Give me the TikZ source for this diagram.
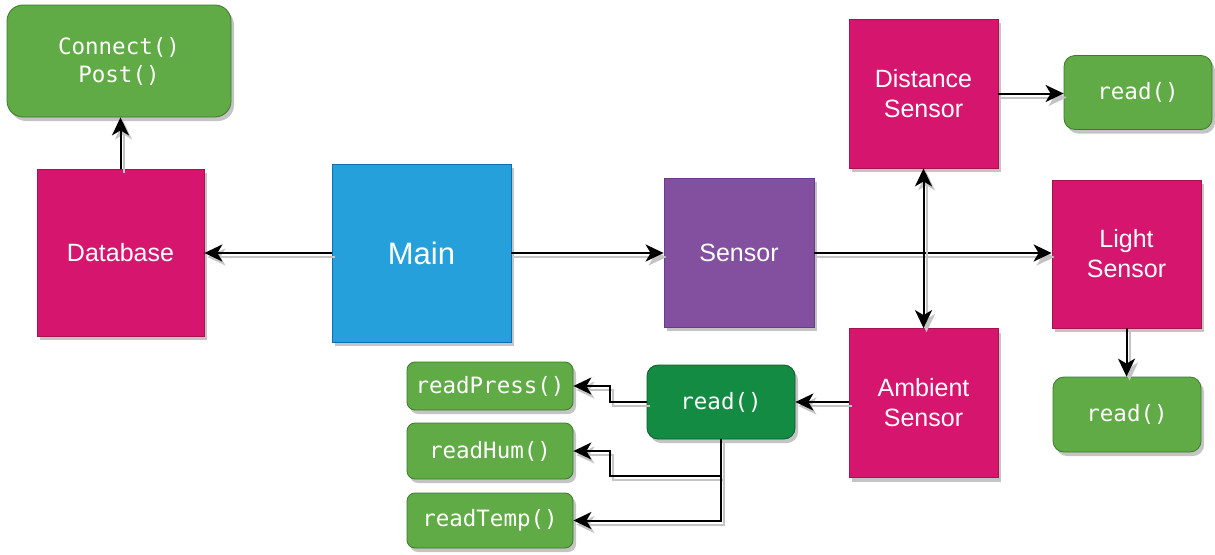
\documentclass[tikz,border=0pt]{standalone}
\usepackage{fontspec}
\setmainfont{Liberation Sans}
\newfontfamily\codefont{DejaVu Sans Mono}
\usetikzlibrary{arrows.meta,shadows}

\definecolor{magentabox}{HTML}{D6156F}
\definecolor{magentaedge}{HTML}{A8124F}
\definecolor{bluebox}{HTML}{26A0DA}
\definecolor{blueedge}{HTML}{0E6FAF}
\definecolor{purplebox}{HTML}{8350A0}
\definecolor{purpleedge}{HTML}{6A3C88}
\definecolor{greenbox}{HTML}{60AB45}
\definecolor{greenedge}{HTML}{3A7A2A}
\definecolor{darkgreenbox}{HTML}{138B42}
\definecolor{darkgreenedge}{HTML}{0B5C2A}
\definecolor{shade}{HTML}{C4C4C4}

\tikzset{
  boxshadow/.style={drop shadow={shadow xshift=3pt,shadow yshift=-4pt,fill=shade,opacity=1}},
  block/.style={draw, line width=0.8pt, inner sep=0pt, align=center, text=white,
    boxshadow, font=\fontsize{25}{30}\selectfont},
  pinkblock/.style={block, fill=magentabox, draw=magentaedge},
  method/.style={block, rounded corners=11pt, fill=greenbox, draw=greenedge,
    font=\codefont\fontsize{22.5}{28}\selectfont},
  wire/.style={line width=2pt, draw=black,
    preaction={draw=shade, line width=2pt, transform canvas={shift={(3pt,-4pt)}}}},
  tipshape/.tip={Stealth[length=18pt,width=17pt,inset=5pt]},
  tip/.style={-tipshape},
  bothtips/.style={tipshape-tipshape},
}

\begin{document}
\begin{tikzpicture}[x=1pt,y=-1pt]
  \useasboundingbox (0,0) rectangle (1215,554);

  % main blocks
  \node[pinkblock, minimum width=167pt, minimum height=167pt] (db) at (120.5,252.5) {Database};
  \node[block, fill=bluebox, draw=blueedge, minimum width=179pt, minimum height=178pt,
        font=\fontsize{31}{36}\selectfont] (main) at (421.5,253) {Main};
  \node[block, fill=purplebox, draw=purpleedge, minimum width=150pt, minimum height=149pt] (sensor) at (739,252.5) {Sensor};
  \node[pinkblock, minimum width=149pt, minimum height=149pt] (dist) at (923.5,93.5) {Distance\\Sensor};
  \node[pinkblock, minimum width=149pt, minimum height=149pt] (amb) at (923.5,403) {Ambient\\Sensor};
  \node[pinkblock, minimum width=149pt, minimum height=148pt] (light) at (1126.5,254) {Light\\Sensor};

  % method boxes
  \node[method, minimum width=224pt, minimum height=112pt, rounded corners=16pt] (api) at (119,61) {Connect()\\Post()};
  \node[method, minimum width=148pt, minimum height=74pt] (rdist) at (1138,92.5) {read()};
  \node[method, minimum width=148pt, minimum height=75pt] (rlight) at (1127,414.5) {read()};
  \node[method, fill=darkgreenbox, draw=darkgreenedge, minimum width=148pt, minimum height=74pt] (ramb) at (721,402) {read()};
  \node[method, rounded corners=8pt, minimum width=166pt, minimum height=48pt] (press) at (490,386) {readPress()};
  \node[method, rounded corners=8pt, minimum width=166pt, minimum height=56pt] (hum) at (490,451) {readHum()};
  \node[method, rounded corners=8pt, minimum width=166pt, minimum height=55pt] (temp) at (490,520.5) {readTemp()};

  \coordinate (pbend) at (610,402);
  \coordinate (hbend) at (610,476);

  % connectors
  \draw[wire, tip] (db.north) -- (db.north |- api.south);
  \draw[wire, tip] (main.west) -- (db.east |- main.west);
  \draw[wire, tip] (main.east) -- (sensor.west |- main.east);
  \draw[wire, tip] (sensor.east |- main.east) -- (light.west |- main.east);
  \draw[wire, bothtips] (dist.south) -- (amb.north);
  \draw[wire, tip] (dist.east) -- (rdist.west |- dist.east);
  \draw[wire, tip] (light.south) -- (light.south |- rlight.north);
  \draw[wire, tip] (amb.west |- ramb.east) -- (ramb.east);
  \draw[wire, tip] (ramb.west) -- (pbend) |- (press.east);
  \draw[wire, tip] (ramb.south) |- (hbend) |- (hum.east);
  \draw[wire, tip] (ramb.south) |- (temp.east);
\end{tikzpicture}
\end{document}
